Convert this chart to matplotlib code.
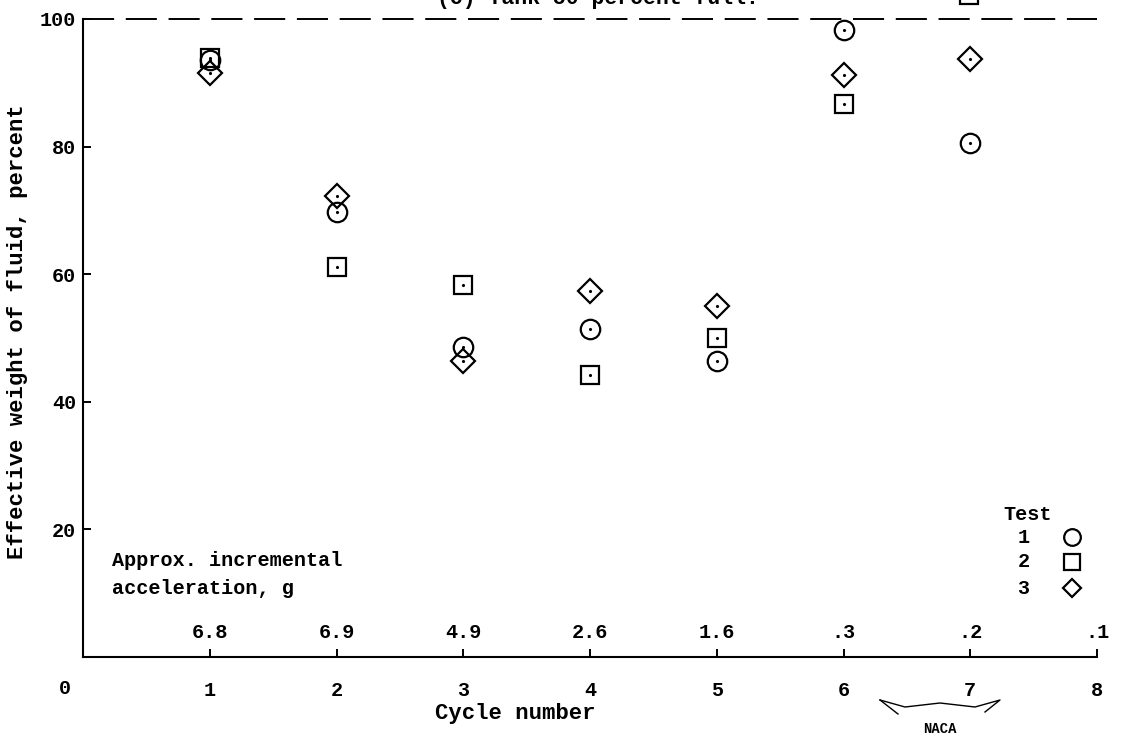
import matplotlib
matplotlib.use("Agg")
import matplotlib.pyplot as plt
from matplotlib.lines import Line2D

plt.rcParams['font.family'] = ['Liberation Mono', 'DejaVu Sans Mono']
plt.rcParams['font.weight'] = 'bold'

# --- data ---
cycles = [1, 2, 3, 4, 5, 6, 7]
test1 = [93.6, 69.7, 48.6, 51.4, 46.4, 98.3, 80.6]   # circles
test2 = [93.9, 61.1, 58.3, 44.2, 50.0, 86.7]         # squares (no cycle 7)
test3 = [91.5, 72.3, 46.4, 57.4, 55.0, 91.2, 93.7]   # diamonds

accel_pos = [1, 2, 3, 4, 5, 6, 7, 8]
accel_labels = ['6.8', '6.9', '4.9', '2.6', '1.6', '.3', '.2', '.1']

x_ticks = [1, 2, 3, 4, 5, 6, 7, 8]
y_ticks = [20, 40, 60, 80, 100]

legend_names = ['1', '2', '3']
legend_markers = ['o', 's', 'D']
legend_sizes = [12, 11, 9]
legend_y = [18.8, 14.9, 10.8]

W, H = 1123, 734
fig = plt.figure(figsize=(W / 100, H / 100), dpi=100)
fig.patch.set_facecolor('white')

left, right, top, bottom = 83, 1097, 19, 657
ax = fig.add_axes([left / W, 1 - bottom / H, (right - left) / W, (bottom - top) / H])
ax.set_xlim(0, 8)
ax.set_ylim(0, 100)

for s in ['top', 'right']:
    ax.spines[s].set_visible(False)
for s in ['left', 'bottom']:
    ax.spines[s].set_linewidth(1.5)

# dashed 100 percent line
ax.axhline(100, color='black', linewidth=1.4, linestyle=(0, (16, 6)), clip_on=False)

mk = dict(linestyle='none', markerfacecolor='none', markeredgecolor='black',
          markeredgewidth=1.6, clip_on=False)
ax.plot(cycles, test1, marker='o', markersize=14, **mk)
ax.plot(cycles[:len(test2)], test2, marker='s', markersize=12.5, **mk)
ax.plot(cycles, test3, marker='D', markersize=12, **mk)
# little centre dots
for ys in (test1, test2, test3):
    ax.plot(cycles[:len(ys)], ys, linestyle='none', marker='.', markersize=2.5, color='black')

# fragment of the legend square from the panel above
ax.plot([6.99], [103.8], marker='s', markersize=12.5, **mk)

ax.set_xticks(x_ticks)
ax.set_xticklabels([str(t) for t in x_ticks])
ax.set_yticks(y_ticks)
ax.set_yticklabels([str(t) for t in y_ticks])
ax.tick_params(direction='in', length=6, width=1.4, labelsize=14.5, colors='black')
ax.tick_params(axis='x', pad=17)
ax.tick_params(axis='y', pad=5)
ax.text(-0.14, -4.9, '0', ha='center', va='center', fontsize=14.5)

# approx incremental acceleration scale
for xp, lab in zip(accel_pos, accel_labels):
    ax.text(xp, 3.8, lab, ha='center', va='center', fontsize=14.5)
ax.text(0.23, 15.2, 'Approx. incremental', ha='left', va='center', fontsize=14.5)
ax.text(0.23, 10.8, 'acceleration, g', ha='left', va='center', fontsize=14.5)

# key
ax.text(7.45, 22.4, 'Test', ha='center', va='center', fontsize=14.5)
for name, m, ms, yy in zip(legend_names, legend_markers, legend_sizes, legend_y):
    ax.text(7.42, yy, name, ha='center', va='center', fontsize=14.5)
    ax.plot([7.80], [yy], marker=m, markersize=ms, **mk)

# axis titles
fig.text(515 / W, 1 - 713 / H, 'Cycle number', ha='center', va='center', fontsize=16)
fig.text(18 / W, 1 - 332 / H, 'Effective weight of fluid, percent',
         rotation=90, ha='center', va='center', fontsize=16)

# clipped caption at the very top
fig.text(437 / W, 1 - 4 / H, '(c) Tank 50 percent full.', ha='left', va='baseline',
         fontsize=15.5)

# NACA stamp at lower right
fig.text(940 / W, 1 - 729 / H, 'NACA', ha='center', va='center', fontsize=10)
wing_x = [880, 905, 940, 975, 1000, 985]
wing_y = [700, 707, 703, 707, 700, 712]
fig.add_artist(Line2D([v / W for v in wing_x], [1 - v / H for v in wing_y],
                      color='black', linewidth=1.0))
wing_x2 = [880, 898]
wing_y2 = [700, 714]
fig.add_artist(Line2D([v / W for v in wing_x2], [1 - v / H for v in wing_y2],
                      color='black', linewidth=1.0))

fig.savefig('out.png', dpi=100, facecolor='white')
